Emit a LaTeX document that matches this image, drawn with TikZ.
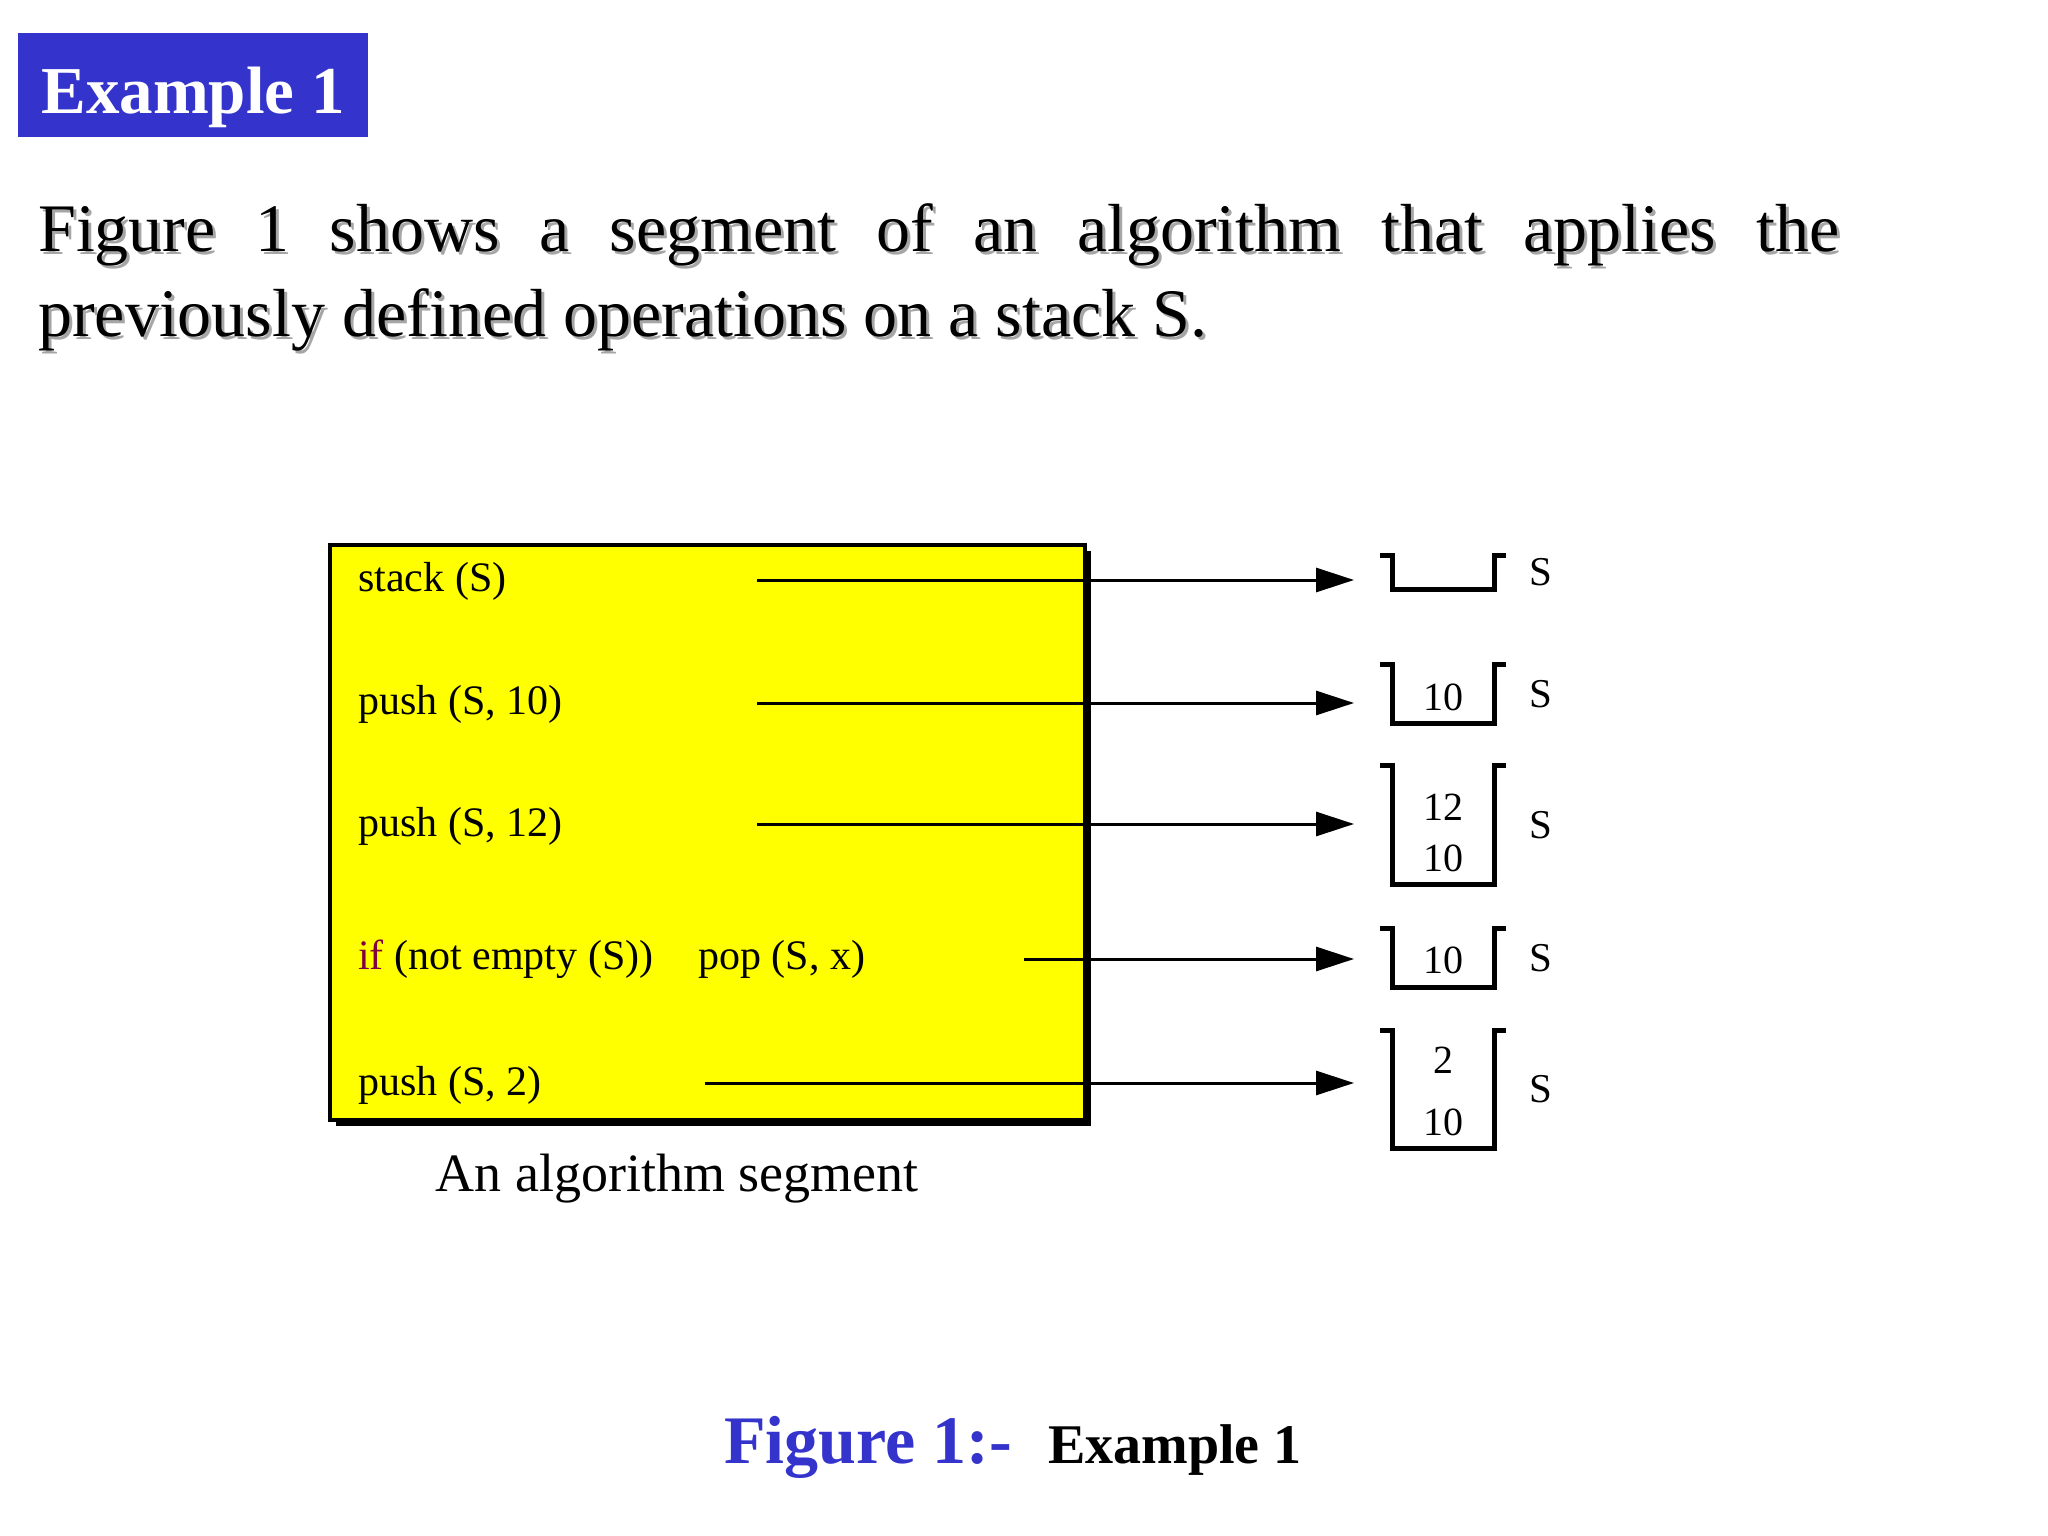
\documentclass[tikz,border=0pt]{standalone}
\usepackage{fontspec}
\setmainfont{Liberation Serif}
\usepackage{xcolor}
\usepackage{tikz}
\usetikzlibrary{arrows.meta,positioning,shadows}

\definecolor{titleblue}{RGB}{52,52,204}
\definecolor{codeyellow}{RGB}{255,255,0}
\definecolor{keyword}{RGB}{128,0,64}

% open stack: bottom and sides, with small lips at the top
\newcommand\drawcup[1]{\draw[cup] ([xshift=-12bp]#1.north west) -- (#1.north west) -- (#1.south west) -- (#1.south east) -- (#1.north east) -- ([xshift=12bp]#1.north east);}

\begin{document}
\begin{tikzpicture}[x=1bp, y=-1bp,
  stmt/.style={anchor=base west, inner sep=0, font=\fontsize{42bp}{50bp}\selectfont},
  arr/.style={-{Triangle[length=38bp,width=24bp]}, line width=3bp, shorten >=38bp},
  stk/.style={minimum width=102bp, inner sep=0, outer sep=0},
  num/.style={anchor=base, inner sep=0, font=\fontsize{40bp}{46bp}\selectfont},
  slab/.style={inner sep=0, font=\fontsize{41bp}{46bp}\selectfont},
  cup/.style={line width=5bp},
  para/.style={anchor=base west, inner sep=0, font=\fontsize{68bp}{85bp}\selectfont}]
  \path[use as bounding box, fill=white] (0,0) rectangle (2048,1536);

  \node[fill=titleblue, minimum width=350bp, minimum height=103bp, inner sep=0] (titlebox) at (193,85) {};
  \node[anchor=base, inner sep=0, text=white, font=\bfseries\fontsize{67bp}{70bp}\selectfont] (title) at (193,114) {Example 1};

  % text with its grey shadow
  \node[para, text=black!35] (line1s) at (41,254) {\makebox[1801bp][s]{Figure 1 shows a segment of an algorithm that applies the}};
  \node[para, text=black!35] (line2s) at (41,339) {previously defined operations on a stack S.};
  \node[para] (line1) at (38,251) {\makebox[1801bp][s]{Figure 1 shows a segment of an algorithm that applies the}};
  \node[para] (line2) at (38,336) {previously defined operations on a stack S.};

  \node[draw, fill=codeyellow, line width=4.5bp, minimum width=755bp, minimum height=575bp,
    drop shadow={shadow xshift=6bp, shadow yshift=-6bp, opacity=1, fill=black}] (algbox) at (707.5,832.5) {};

  \node[stmt] (op1) at (358,591) {stack (S)};
  \node[stmt] (op2) at (358,714) {push (S, 10)};
  \node[stmt] (op3) at (358,836) {push (S, 12)};
  \node[stmt] (op4) at (358,969) {\textcolor{keyword}{if} (not empty (S))\hspace{45bp}pop (S, x)};
  \node[stmt] (op5) at (358,1095) {push (S, 2)};
  \node[anchor=base, inner sep=0, font=\fontsize{54bp}{60bp}\selectfont] (segcap) at (677,1191) {An algorithm segment};

  \coordinate (a1) at (757,580);
  \coordinate (a2) at (757,703);
  \coordinate (a3) at (757,824);
  \coordinate (a4) at (1024,959);
  \coordinate (a5) at (705,1083);

  \node[stk, minimum height=34bp] (stk1) at (1443,572) {};
  \node[stk, minimum height=59bp] (stk2) at (1443,694) {};
  \node[stk, minimum height=119bp] (stk3) at (1443,825) {};
  \node[stk, minimum height=59bp] (stk4) at (1443,958) {};
  \node[stk, minimum height=118bp] (stk5) at (1443,1089) {};
  \drawcup{stk1}
  \drawcup{stk2}
  \drawcup{stk3}
  \drawcup{stk4}
  \drawcup{stk5}

  \node[num] (v2a) at (1443,710) {10};
  \node[num] (v3a) at (1443,820) {12};
  \node[num] (v3b) at (1443,871) {10};
  \node[num] (v4a) at (1443,973) {10};
  \node[num] (v5a) at (1443,1073) {2};
  \node[num] (v5b) at (1443,1135) {10};

  \node[slab, right=35bp of stk1] (s1) {S};
  \node[slab, right=35bp of stk2] (s2) {S};
  \node[slab, right=35bp of stk3] (s3) {S};
  \node[slab, right=35bp of stk4] (s4) {S};
  \node[slab, right=35bp of stk5] (s5) {S};

  \draw[arr] (a1) -- (a1 -| stk1.west);
  \draw[arr] (a2) -- (a2 -| stk2.west);
  \draw[arr] (a3) -- (a3 -| stk3.west);
  \draw[arr] (a4) -- (a4 -| stk4.west);
  \draw[arr] (a5) -- (a5 -| stk5.west);

  \node[anchor=base west, inner sep=0, text=titleblue, font=\bfseries\fontsize{68bp}{80bp}\selectfont] (figcap) at (724,1463) {Figure 1:-};
  \node[inner sep=0, font=\bfseries\fontsize{56bp}{60bp}\selectfont, base right=36bp of figcap] (figex) {Example 1};
\end{tikzpicture}
\end{document}
